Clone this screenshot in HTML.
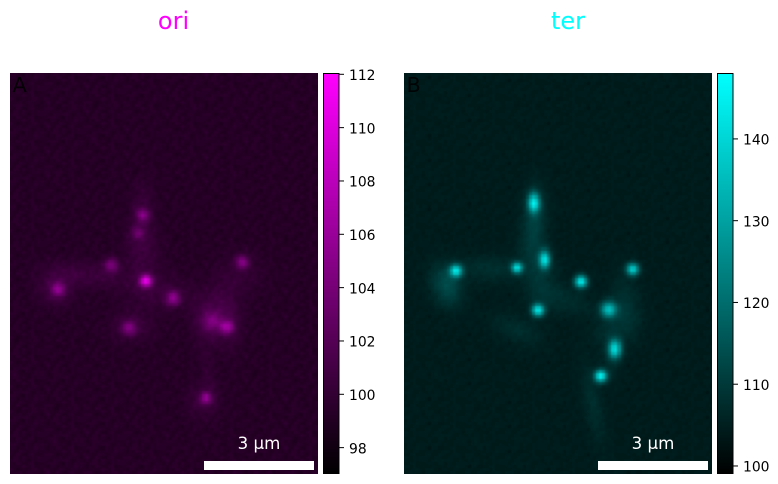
<!DOCTYPE html>
<html lang="en">
<head>
<meta charset="utf-8">
<title>ori and ter fluorescence images</title>
<style>
html,body{margin:0;padding:0;background:#fff;}
#figure{position:relative;width:778px;height:484px;overflow:hidden;background:#fff;font-family:"DejaVu Sans",sans-serif;}
.frame{position:absolute;overflow:hidden;top:73px;width:308px;height:401px;}
.frame canvas{display:block;width:316px;height:409px;margin:-4px 0 0 -4px;filter:blur(0.6px);}
#overlay{position:absolute;left:0;top:0;}
text{font-family:"DejaVu Sans",sans-serif;}
</style>
</head>
<body>
<div id="figure">
  <div class="frame" style="left:10px"><canvas id="oriCanvas" width="316" height="409"></canvas></div>
  <div class="frame" style="left:404px"><canvas id="terCanvas" width="316" height="409"></canvas></div>
  <svg id="overlay" width="778" height="484" xmlns="http://www.w3.org/2000/svg">
    <defs>
      <linearGradient id="oriGrad" x1="0" y1="1" x2="0" y2="0"><stop offset="0" stop-color="#000"/><stop offset="1" stop-color="#f0f"/></linearGradient>
      <linearGradient id="terGrad" x1="0" y1="1" x2="0" y2="0"><stop offset="0" stop-color="#000"/><stop offset="1" stop-color="#0ff"/></linearGradient>
    </defs>
    <text x="173.5" y="29" font-size="24" fill="#ff00ff" text-anchor="middle">ori</text>
    <text x="568" y="29" font-size="24" fill="#00ffff" text-anchor="middle">ter</text>
    <text x="12.5" y="92" font-size="20.8" fill="#000" fill-opacity="0.85">A</text>
    <text x="406.5" y="92" font-size="20.8" fill="#000" fill-opacity="0.85">B</text>
    <text x="259" y="449" font-size="16.67" fill="#fff" text-anchor="middle">3 µm</text>
    <text x="653" y="449" font-size="16.67" fill="#fff" text-anchor="middle">3 µm</text>
    <rect x="204" y="461" width="110" height="9" fill="#fff"/>
    <rect x="598" y="461" width="110" height="9" fill="#fff"/>
    <rect x="323.5" y="73.5" width="15.5" height="400" fill="url(#oriGrad)" stroke="#000" stroke-width="1"/>
    <rect x="717.5" y="73.5" width="15.5" height="400" fill="url(#terGrad)" stroke="#000" stroke-width="1"/>
    <g id="oriTicks"></g>
    <g id="terTicks"></g>
  </svg>
</div>
<script>
// Image grid
const gridCols = 101;
const gridRows = 131;

// ori channel values
const oriRange = [97.03, 112.03];
const oriBackground = 99.2;
const oriNoise = 0.95;
const oriTickValues = [98, 100, 102, 104, 106, 108, 110, 112];
const oriSpotCol = [43.1, 41.5, 32.6, 75.6, 15.2, 44.1, 52.9, 38.5, 65.7, 70.6, 63.8];
const oriSpotRow = [45.9, 51.8, 62.2, 61.2, 70.4, 67.5, 73.1, 82.8, 80.8, 82.5, 105.7];
const oriSpotAmp = [4.6, 3, 4.6, 5.2, 4.8, 10.6, 5.4, 4.2, 3, 5.6, 5.2];
const oriSpotSigma = [1.5, 1.5, 1.6, 1.5, 1.6, 1.4, 1.6, 1.7, 2, 1.5, 1.3];
const oriHaloCol = [43, 42, 25.5, 14.5, 43.5, 49.5, 39.5, 65.5, 71.5, 75.5, 69.5, 64.5, 62.5];
const oriHaloRow = [43.5, 54.5, 65.5, 69.5, 62.5, 71.5, 82.5, 79.5, 81.5, 65.5, 71.5, 96.5, 106.5];
const oriHaloWide = [2.5, 3.5, 9, 4, 4, 8, 5, 4, 3, 5, 3, 2, 3.5];
const oriHaloTall = [6, 5, 3, 4, 7, 4, 3.5, 5, 6, 5, 6, 8, 4];
const oriHaloAngle = [0, 0, -0.1, 0, 0, 0, 0, 0, 0, 0, 0, 0.2, 0];
const oriHaloAmp = [1.1, 0.8, 1.3, 1.6, 0.9, 0.9, 1.2, 2.2, 1.1, 0.8, 0.5, 0.6, 1.2];

// ter channel values
const terRange = [99.08, 148];
const terBackground = 104.3;
const terNoise = 1.6;
const terTickValues = [100, 110, 120, 130, 140];
const terSpotCol = [42.1, 45.7, 36.5, 16.5, 74.4, 57.5, 43.5, 66.7, 68.7, 64.1];
const terSpotRow = [41.9, 60.4, 63.1, 64.1, 63.6, 67.7, 76.9, 76.7, 89.7, 98.5];
const terSpotAmp = [36, 36, 35, 36, 34, 40, 38, 30, 34, 41];
const terSpotSigma = [1.3, 1.25, 1.25, 1.4, 1.4, 1.4, 1.4, 1.8, 1.35, 1.4];
const terSpotStretch = [1.6, 1.6, 1, 1, 1, 1, 1, 1, 1.5, 1];
const terHaloCol = [42.5, 41.5, 27.5, 13.5, 44.5, 51.5, 36.5, 71.5, 72.5, 66.5, 67.5, 61.5];
const terHaloRow = [44.5, 55.5, 63.5, 69, 67.5, 73.5, 83.5, 71.5, 79.5, 84.5, 92.5, 107.5];
const terHaloWide = [2.5, 3, 9, 3.2, 3.5, 7, 6, 3, 3.5, 4, 2, 2.2];
const terHaloTall = [6, 6, 3, 4.5, 6, 3, 3, 6, 5, 4, 5, 9];
const terHaloAngle = [0, 0, 0, 0.3, 0, -0.3, -0.4, 0, 0, 0, 0, 0.2];
const terHaloAmp = [6, 4.5, 3.5, 9, 3.5, 3.2, 3.2, 2.4, 3.5, 2.6, 2.6, 3.4];

// Hand-typed grain pattern for the camera background (digits 0-9)
const grainTile = [
  "4729051836274",
  "6158372940615",
  "2830691475382",
  "9416205738149",
  "0573948261706",
  "7281639054827",
  "3946107285391",
  "1602875349260",
  "8359412670538",
  "5074263918174",
  "2691780453926"
];

const canvasMargin = 4;

function imageX(col) { return canvasMargin + col * 308 / gridCols; }
function imageY(row) { return canvasMargin + row * 401 / gridRows; }
function barY(value, range) { return 473.5 - (value - range[0]) / (range[1] - range[0]) * 400; }

function level(value, range) {
  const t = Math.max(0, Math.min(1, (value - range[0]) / (range[1] - range[0])));
  return Math.round(t * 255);
}

function ellipse(c, r, cc, rc, sw, st, ang, amp) {
  const dc = c - cc, dr = r - rc;
  const u = dc * Math.cos(ang) - dr * Math.sin(ang);
  const v = dc * Math.sin(ang) + dr * Math.cos(ang);
  return amp * Math.exp(-0.5 * (u * u / (sw * sw) + v * v / (st * st)));
}

function grainAt(c, r, shift) {
  const cc = c + 26, rr = r + 22;
  const col = (cc + shift) % 13;
  const row = (rr + Math.floor(cc / 13) * 5 + Math.floor(rr / 11) * 3) % 11;
  return (Number(grainTile[row][col]) - 4.5) / 4.5;
}

function grain(c, r, shift) {
  return (grainAt(c, r, shift) + grainAt(c + 1, r, shift) + grainAt(c, r + 1, shift) + grainAt(c + 1, r + 1, shift)) / 4;
}

function drawHeatmap(canvasId, range, bg, noise, spots, halos, paint) {
  const ctx = document.getElementById(canvasId).getContext('2d');
  for (let r = -2; r < gridRows + 2; r++) {
    for (let c = -2; c < gridCols + 2; c++) {
      let v = bg + noise * grain(c, r, noise > 1 ? 4 : 0);
      for (let i = 0; i < spots.col.length; i++) {
        const s = spots.sigma[i];
        const st = spots.stretch ? spots.stretch[i] : 1;
        v += ellipse(c, r, spots.col[i], spots.row[i], s, s * st, 0, spots.amp[i]);
      }
      for (let i = 0; i < halos.col.length; i++) {
        v += ellipse(c, r, halos.col[i], halos.row[i], halos.wide[i], halos.tall[i], halos.angle[i], halos.amp[i]);
      }
      const g = level(v, range);
      ctx.fillStyle = paint(g);
      const x0 = Math.round(imageX(c)), x1 = Math.round(imageX(c + 1));
      const y0 = Math.round(imageY(r)), y1 = Math.round(imageY(r + 1));
      ctx.fillRect(x0, y0, x1 - x0, y1 - y0);
    }
  }
}

function drawTicks(groupId, values, range, barRight, prefix) {
  const g = document.getElementById(groupId);
  const ns = 'http://www.w3.org/2000/svg';
  values.forEach(function (val) {
    const y = barY(val, range);
    const tick = document.createElementNS(ns, 'line');
    tick.setAttribute('x1', barRight);
    tick.setAttribute('x2', barRight + 5);
    tick.setAttribute('y1', y);
    tick.setAttribute('y2', y);
    tick.setAttribute('stroke', '#000');
    tick.setAttribute('stroke-width', '1');
    
    
    g.appendChild(tick);
    const label = document.createElementNS(ns, 'text');
    label.setAttribute('x', barRight + 10);
    label.setAttribute('y', y + 5.7);
    label.setAttribute('font-size', '13.89');
    label.setAttribute('fill', '#000');
    
    
    label.textContent = String(val);
    g.appendChild(label);
  });
}

drawHeatmap('oriCanvas', oriRange, oriBackground, oriNoise,
  { col: oriSpotCol, row: oriSpotRow, amp: oriSpotAmp, sigma: oriSpotSigma },
  { col: oriHaloCol, row: oriHaloRow, wide: oriHaloWide, tall: oriHaloTall, angle: oriHaloAngle, amp: oriHaloAmp },
  function (g) { return 'rgb(' + g + ',0,' + g + ')'; });

drawHeatmap('terCanvas', terRange, terBackground, terNoise,
  { col: terSpotCol, row: terSpotRow, amp: terSpotAmp, sigma: terSpotSigma, stretch: terSpotStretch },
  { col: terHaloCol, row: terHaloRow, wide: terHaloWide, tall: terHaloTall, angle: terHaloAngle, amp: terHaloAmp },
  function (g) { return 'rgb(0,' + g + ',' + g + ')'; });

drawTicks('oriTicks', oriTickValues, oriRange, 339, 'ori');
drawTicks('terTicks', terTickValues, terRange, 733, 'ter');
</script>
</body>
</html>
